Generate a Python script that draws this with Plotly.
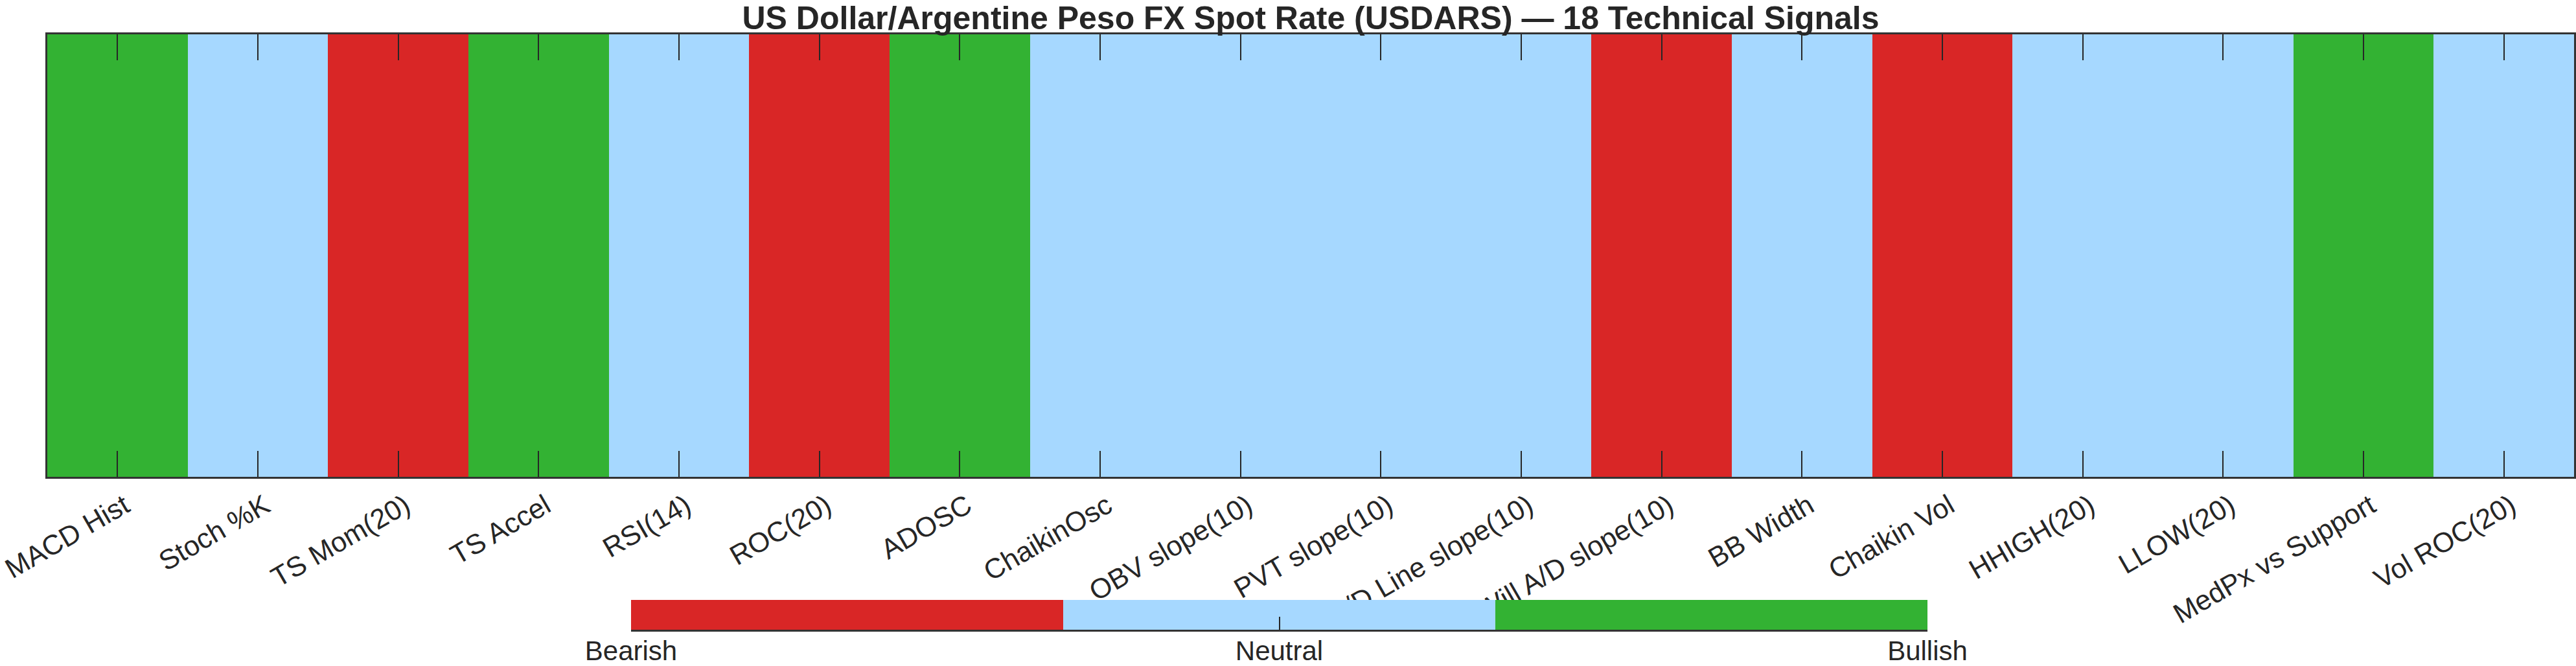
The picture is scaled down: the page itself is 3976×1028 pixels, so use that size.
import plotly.graph_objects as go

indicators = ["MACD Hist", "Stoch %K", "TS Mom(20)", "TS Accel", "RSI(14)", "ROC(20)",
              "ADOSC", "ChaikinOsc", "OBV slope(10)", "PVT slope(10)", "A/D Line slope(10)",
              "Will A/D slope(10)", "BB Width", "Chaikin Vol", "HHIGH(20)", "LLOW(20)",
              "MedPx vs Support", "Vol ROC(20)"]
signals = [1, 0, -1, 1, 0, -1, 1, 0, 0, 0, 0, -1, 0, -1, 0, 0, 1, 0]
signal_vals = [-1, 0, 1]
signal_names = ["Bearish", "Neutral", "Bullish"]

RED = "rgb(217,38,38)"
BLUE = "rgb(166,216,255)"
GREEN = "rgb(51,178,51)"
colorscale = [[0, RED], [1/3, RED], [1/3, BLUE], [2/3, BLUE], [2/3, GREEN], [1, GREEN]]
INK = "#262626"
LINE = "#333333"
FONT = "Liberation Sans"

W, H = 3976, 1028
ml, mr, mt, mb = 73, 3, 53, 56
area_h = H - mt - mb
area_w = W - ml - mr

main_bottom = 736           # pixel y of main plot bottom
cb_left, cb_right, cb_top = 974, 2975, 926

fig = go.Figure()

# main signal strip
fig.add_trace(go.Heatmap(
    z=[signals], x=indicators, y=[0],
    zmin=-1, zmax=1, colorscale=colorscale, showscale=False,
    xaxis="x", yaxis="y", hoverinfo="x+z",
))

# colour key bar, drawn as its own small heatmap axis
fig.add_trace(go.Heatmap(
    z=[signal_vals], x=[v * 2 / 3 for v in signal_vals], y=[0],
    zmin=-1, zmax=1, colorscale=colorscale, showscale=False,
    xaxis="x2", yaxis="y2", hoverinfo="skip",
))

fig.update_layout(
    width=W, height=H,
    margin=dict(l=ml, r=mr, t=mt, b=mb, pad=0, autoexpand=False),
    paper_bgcolor="white", plot_bgcolor="rgba(0,0,0,0)",
    font=dict(family=FONT, color=INK),
    showlegend=False,
    title=dict(
        text="<b>US Dollar/Argentine Peso FX Spot Rate (USDARS) — 18 Technical Signals</b>",
        x=(ml + area_w / 2) / W, xanchor="center",
        y=1 - 27 / H, yanchor="middle", yref="container",
        font=dict(size=50, color=INK, family=FONT),
        automargin=False,
    ),
    xaxis=dict(
        type="category", range=[-0.5, len(indicators) - 0.5],
        domain=[0, 1], anchor="y", automargin=False,
        tickangle=-30, tickfont=dict(size=43, color=INK),
        ticklabelshift=11,
        ticks="inside", ticklen=40, tickwidth=1.5, tickcolor=INK,
        showline=True, linewidth=3, linecolor=LINE, mirror="ticks",
        showgrid=False, zeroline=False,
    ),
    yaxis=dict(
        range=[-0.5, 0.5], domain=[(H - mb - main_bottom) / area_h, 1], anchor="x",
        automargin=False,
        showticklabels=False, ticks="",
        showline=True, linewidth=3, linecolor=LINE, mirror=True,
        showgrid=False, zeroline=False,
    ),
    xaxis2=dict(
        range=[-1, 1], domain=[(cb_left - ml) / area_w, (cb_right - ml) / area_w],
        anchor="y2", automargin=False,
        tickvals=signal_vals, ticktext=signal_names,
        tickfont=dict(size=42, color=INK),
        ticklabelstandoff=-6,
        ticks="inside", ticklen=20, tickwidth=1.5, tickcolor=INK,
        showline=True, linewidth=3, linecolor=LINE, mirror=False,
        showgrid=False, zeroline=False,
    ),
    yaxis2=dict(
        range=[-0.5, 0.5], domain=[0, (H - mb - cb_top) / area_h], anchor="x2",
        automargin=False,
        showticklabels=False, ticks="", showline=False,
        showgrid=False, zeroline=False,
    ),
)

fig.write_html("out.html")
